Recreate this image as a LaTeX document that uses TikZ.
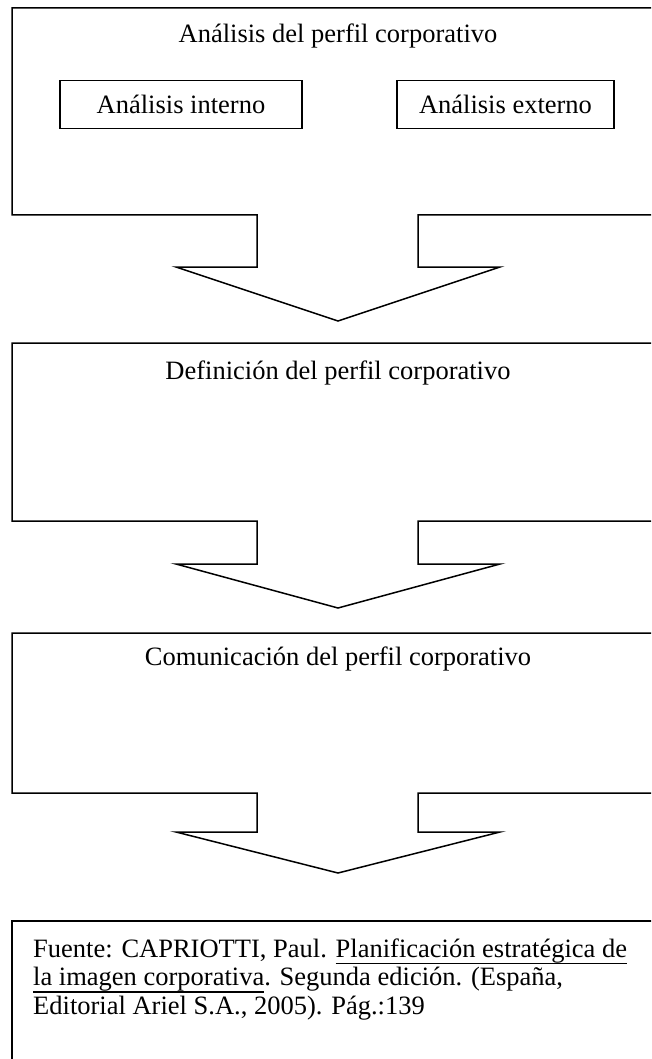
\documentclass[tikz,border=0pt]{standalone}
\usepackage{fontspec}
\setmainfont{Liberation Serif}
\usetikzlibrary{positioning}

\newcommand{\subrayado}[1]{\setbox0\hbox{#1}\rlap{\rule[-7pt]{\wd0}{1.3pt}}\box0}

\tikzset{
  marco/.style={draw=black,line width=1.5pt,line join=miter},
  titulo/.style={font=\fontsize{26.5}{28}\selectfont,inner sep=0pt,anchor=base},
  cajita/.style={draw=black,line width=1.5pt,font=\fontsize{26.5}{28}\selectfont,
                 inner sep=0pt,minimum height=48pt},
  fuente/.style={font=\fontsize{26.5}{28.5}\selectfont,inner sep=0pt,align=left,anchor=base west}
}

\begin{document}
\begin{tikzpicture}[x=1pt,y=-1pt]
\useasboundingbox (0,0) rectangle (651,1059);
\clip (0,0) rectangle (651,1059);

% bloques con su flecha hacia abajo
\foreach \t/\b/\s/\p in {8/215/267/321,343/521/564/608,633/793/832/873}{
  \draw[marco] (418,\b) -- (664,\b) -- (664,\t) -- (12,\t) -- (12,\b) -- (257,\b)
    -- (257,\s) -- (176,\s) -- (338,\p) -- (500,\s) -- (418,\s) -- cycle;
}

\node[titulo] (analisis) at (338,43) {Análisis del perfil corporativo};
\node[cajita,minimum width=242pt] (interno) at (181,104.5) {Análisis interno};
\node[cajita,minimum width=217pt] (externo) at (505.5,104.5) {Análisis externo};

\node[titulo] (definicion) at (338,379) {Definición del perfil corporativo};
\node[titulo] (comunicacion) at (338,665) {Comunicación del perfil corporativo};

% fuente (base = ultima linea)
\draw[marco] (12,1100) -- (12,921) -- (664,921);
\node[fuente] (cita) at (33,1014) {Fuente: CAPRIOTTI, Paul. \subrayado{Planificación estratégica de}\\
\subrayado{la imagen corporativa}. Segunda edición. (España,\\
Editorial Ariel S.A., 2005). Pág.:139};

\end{tikzpicture}
\end{document}
